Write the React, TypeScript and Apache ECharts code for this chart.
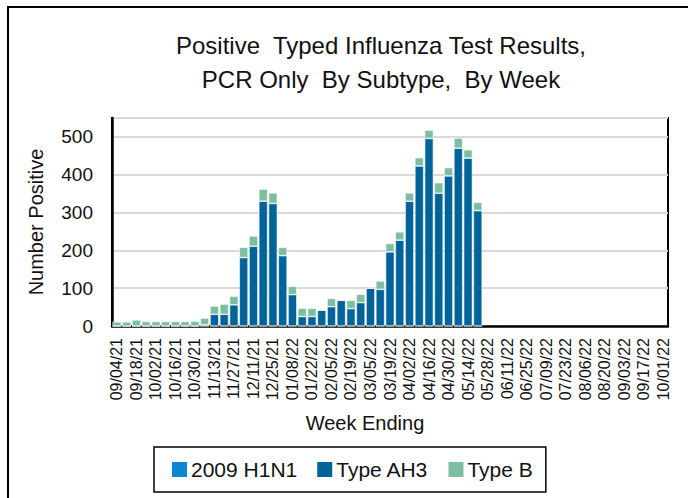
import React, { useEffect, useRef } from "react";
import * as echarts from "echarts";

const weeks = [
  "09/04/21","09/11/21","09/18/21","09/25/21","10/02/21","10/09/21","10/16/21","10/23/21","10/30/21","11/06/21",
  "11/13/21","11/20/21","11/27/21","12/04/21","12/11/21","12/18/21","12/25/21","01/01/22","01/08/22","01/15/22",
  "01/22/22","01/29/22","02/05/22","02/12/22","02/19/22","02/26/22","03/05/22","03/12/22","03/19/22","03/26/22",
  "04/02/22","04/09/22","04/16/22","04/23/22","04/30/22","05/07/22","05/14/22","05/21/22","05/28/22","06/04/22",
  "06/11/22","06/18/22","06/25/22","07/02/22","07/09/22","07/16/22","07/23/22","07/30/22","08/06/22","08/13/22",
  "08/20/22","08/27/22","09/03/22","09/10/22","09/17/22","09/24/22","10/01/22",
];

const h1n1 = [
  0,0,0,0,0,0,0,0,0,0,
  0,0,0,0,0,0,0,0,0,0,
  0,0,0,0,0,0,0,0,0,0,
  0,0,0,0,0,0,0,0,
];

const typeAH3 = [
  0,0,0,0,0,0,0,0,0,3,
  31,31,56,181,211,330,324,186,83,25,
  25,42,51,68,46,62,100,97,196,227,
  330,423,496,351,397,470,444,305,
];

const typeB = [
  11,11,16,12,12,12,12,12,13,18,
  22,27,23,27,27,32,28,22,22,22,
  22,0,22,0,22,22,0,22,22,22,
  22,22,22,28,22,27,22,22,
];

const yTicks = [0, 100, 200, 300, 400, 500];

const FONT = "Liberation Sans";

export default function App() {
  const ref = useRef<HTMLDivElement>(null);
  useEffect(() => {
    if (!ref.current) return;
    const chart = echarts.init(ref.current, undefined, { renderer: "svg" });
    const barStyle = { borderColor: "#ffffff", borderWidth: 0.6 };
    chart.setOption({
      animation: false,
      backgroundColor: "#ffffff",
      textStyle: { fontFamily: FONT, color: "#111" },
      title: {
        text: "Positive  Typed Influenza Test Results,\nPCR Only  By Subtype,  By Week",
        left: 381,
        top: 28,
        textAlign: "center",
        padding: 0,
        textStyle: { fontFamily: FONT, fontSize: 24, fontWeight: "normal", color: "#111", lineHeight: 34 },
      },
      legend: {
        data: ["2009 H1N1", "Type AH3", "Type B"],
        left: 154,
        top: 447,
        padding: [12, 13, 12, 16],
        borderColor: "#000",
        borderWidth: 1.5,
        itemWidth: 17,
        itemHeight: 17,
        itemGap: 18,
        icon: "rect",
        textStyle: { fontFamily: FONT, fontSize: 21, color: "#111", padding: [0, 0, 0, -2] },
      },
      grid: {
        left: 112,
        top: 118,
        width: 556,
        height: 208,
        show: true,
        borderColor: "#000",
        borderWidth: 2,
        containLabel: false,
      },
      xAxis: {
        type: "category",
        data: weeks,
        axisLine: { lineStyle: { color: "#000", width: 2.5 } },
        axisTick: { show: false },
        axisLabel: {
          interval: 1,
          rotate: 90,
          margin: 12,
          fontFamily: FONT,
          fontSize: 16,
          color: "#111",
        },
        splitLine: { show: false },
      },
      yAxis: {
        type: "value",
        min: 0,
        max: 550,
        interval: 100,
        name: "Number Positive",
        nameLocation: "middle",
        nameGap: 66,
        nameTextStyle: { fontFamily: FONT, fontSize: 20, color: "#111" },
        axisLine: { show: true, lineStyle: { color: "#000", width: 2.5 } },
        axisTick: { show: false },
        axisLabel: {
          margin: 19,
          fontFamily: FONT,
          fontSize: 19,
          color: "#111",
          formatter: (v: number) => (yTicks.includes(v) ? String(v) : ""),
        },
        splitLine: { lineStyle: { color: "#d9d9d9", width: 2 } },
      },
      graphic: [
        {
          type: "rect",
          shape: { x: 8, y: 7, width: 720, height: 600 },
          style: { fill: "none", stroke: "#000", lineWidth: 2 },
          silent: true,
        },
        {
          type: "text",
          x: 365,
          y: 423,
          style: {
            text: "Week Ending",
            fontFamily: FONT,
            fontSize: 20,
            fill: "#111",
            textAlign: "center",
            textVerticalAlign: "middle",
          },
        },
      ],
      series: [
        {
          name: "2009 H1N1",
          type: "bar",
          stack: "total",
          data: h1n1,
          barCategoryGap: "10%",
          itemStyle: { color: "#0a86d2", ...barStyle },
        },
        {
          name: "Type AH3",
          type: "bar",
          stack: "total",
          data: typeAH3,
          barCategoryGap: "10%",
          itemStyle: { color: "#00649b", ...barStyle },
        },
        {
          name: "Type B",
          type: "bar",
          stack: "total",
          data: typeB,
          barCategoryGap: "10%",
          itemStyle: { color: "#7dbda0", ...barStyle },
        },
      ],
    });
    return () => chart.dispose();
  }, []);
  return (
    <div
      ref={ref}
      style={{ position: "fixed", left: 0, top: 0, width: 688, height: 498 }}
    />
  );
}
